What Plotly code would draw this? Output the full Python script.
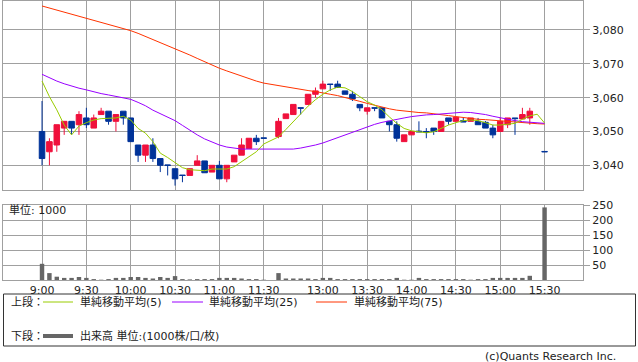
import plotly.graph_objects as go

# ---------------- data ----------------
morning = [f"{9 + m // 60}:{m % 60:02d}" for m in range(0, 151, 5)]           # 9:00 .. 11:30
afternoon = [f"{12 + (30 + m) // 60}:{(30 + m) % 60:02d}" for m in range(0, 181, 5)]  # 12:30 .. 15:30
times = morning + afternoon

opens = [3050, 3044, 3046, 3051, 3053, 3052, 3054, 3051, 3055, 3056,
         3053, 3056, 3054, 3046, 3043, 3046, 3042, 3040.1, 3039, 3037.1,
         3037, 3040, 3041.3, 3038, 3040, 3036, 3041, 3043, 3045, 3048,
         3048.1,
         3048.5, 3053.8, 3055, 3057, 3058, 3061, 3062.6, 3064, 3064, 3062,
         3061, 3058, 3056, 3057, 3057, 3053, 3052, 3047, 3049, 3050.1,
         3050, 3051, 3050, 3054, 3053, 3053.2, 3053, 3053, 3052.7, 3051,
         3050, 3052, 3054, 3053.7, 3054, None, 3044.1]
highs = [3059, 3048, 3052, 3053, 3053, 3056, 3057, 3055, 3057, 3056,
         3055, 3056, 3054, 3046, 3046, 3048, 3042, 3040.1, 3039, 3037.1,
         3039, 3043, 3041.3, 3040, 3041.3, 3040, 3043, 3048, 3048, 3049,
         3048.1,
         3054, 3055.2, 3058, 3057, 3061, 3063, 3065, 3064, 3065, 3062,
         3062, 3058, 3057, 3057, 3057, 3053, 3053, 3049, 3050, 3053,
         3051, 3051, 3053, 3054, 3054.2, 3054, 3054, 3054, 3053.1, 3052,
         3054, 3054, 3054, 3057, 3057, None, 3044.1]
lows = [3040, 3040, 3044, 3049, 3049, 3049, 3051, 3051, 3055, 3052,
        3050, 3052, 3047, 3041, 3041, 3041, 3038, 3037, 3034, 3035,
        3037, 3040, 3037.8, 3038, 3036, 3035, 3041, 3043, 3045, 3046,
        3048,
        3048, 3053.8, 3055, 3055, 3058, 3060, 3062.6, 3062, 3063, 3061,
        3059, 3056, 3055, 3056, 3054, 3050, 3047, 3047, 3049, 3049.9,
        3048, 3049, 3050, 3052, 3053, 3052.8, 3053, 3052, 3051, 3048,
        3050, 3051, 3049, 3053.7, 3052, None, 3044]
closes = [3042, 3047, 3052, 3053, 3051, 3055, 3052, 3054, 3056, 3053,
          3055, 3054, 3047, 3043, 3046, 3042, 3040, 3040, 3036, 3037,
          3039, 3041.3, 3037.8, 3040, 3036, 3040, 3043, 3046, 3048, 3047,
          3048,
          3053, 3055.2, 3058, 3056.9, 3061, 3062, 3064, 3063.9, 3063, 3061,
          3059.6, 3057, 3057, 3056.9, 3054, 3052, 3048, 3049, 3050, 3049.9,
          3049.8, 3050, 3053, 3053, 3054.2, 3052.8, 3054, 3052, 3051, 3049,
          3053, 3054, 3053.8, 3055, 3056, None, 3044]

ma5 = [3064.9, 3060.3, 3056.4, 3051.9, 3049.0, 3051.6, 3052.6, 3053.4, 3053.8, 3054.0,
       3054.0, 3054.5, 3053.4, 3050.9, 3049.5, 3047.0, 3043.6, 3042.3, 3040.8, 3039.3,
       3038.7, 3038.6, 3038.4, 3038.9, 3038.9, 3038.9, 3039.6, 3041.1, 3042.6, 3044.0,
       3046.3,
       3048.4, 3050.6, 3053.0, 3055.4, 3057.5, 3059.4, 3061.0, 3062.3, 3063.1, 3062.9,
       3061.8, 3060.3, 3058.8, 3057.8, 3056.4, 3054.3, 3052.4, 3050.9, 3050.2, 3049.9,
       3049.6, 3049.9, 3050.9, 3051.9, 3052.6, 3053.2, 3053.4, 3053.2, 3052.6, 3051.9,
       3051.9, 3052.2, 3052.4, 3053.6, 3054.6, 3055.1, 3052.5]
ma25 = [3066.9, 3065.8, 3064.9, 3064.1, 3063.4, 3062.8, 3062.3, 3061.7, 3061.2, 3060.8,
        3060.4, 3059.9, 3059.5, 3058.6, 3057.6, 3056.3, 3055.2, 3054.2, 3053.2, 3051.8,
        3050.3, 3049.0, 3047.8, 3046.8, 3046.0, 3045.4, 3045.0, 3044.8, 3044.8, 3044.8,
        3044.8,
        3044.7, 3044.7, 3044.8, 3045.1, 3045.5, 3046.0, 3046.6, 3047.4, 3048.3, 3049.0,
        3049.8, 3050.6, 3051.4, 3052.1, 3052.7, 3053.2, 3053.6, 3054.0, 3054.4, 3054.7,
        3054.9, 3055.0, 3055.2, 3055.5, 3055.7, 3055.7, 3055.6, 3055.4, 3055.0, 3054.5,
        3054.0, 3053.6, 3053.2, 3052.9, 3052.7, 3052.5, 3052.4]
ma75 = [3087.1, 3086.5, 3085.9, 3085.3, 3084.7, 3084.1, 3083.5, 3082.9, 3082.3, 3081.7,
        3081.0, 3080.4, 3079.8, 3079.0, 3078.1, 3077.2, 3076.4, 3075.5, 3074.6, 3073.6,
        3072.6, 3071.6, 3070.6, 3069.6, 3068.7, 3067.9, 3067.1, 3066.4, 3065.6, 3064.9,
        3064.3,
        3063.5, 3063.1, 3062.8, 3062.5, 3062.1, 3061.8, 3061.5, 3061.0, 3060.6, 3060.1,
        3059.6, 3058.9, 3058.3, 3057.7, 3057.1, 3056.7, 3056.3, 3056.0, 3055.7, 3055.6,
        3055.5, 3055.3, 3055.0, 3054.7, 3054.4, 3054.1, 3053.8, 3053.6, 3053.5, 3053.3,
        3053.2, 3053.0, 3052.8, 3052.6, 3052.5, 3052.3, 3052.2]

volume = [54, 23, 11, 7, 7, 10, 7, 3, 1, 3,
          7, 7, 10, 10, 7, 5, 10, 7, 13, 3,
          2, 3, 3, 3, 7, 7, 7, 5, 3, 3,
          1,
          23, 5, 5, 5, 5, 3, 7, 7, 3, 3,
          3, 3, 3, 3, 3, 3, 7, 1, 1, 7,
          3, 3, 3, 3, 3, 3, 1, 3, 3, 7,
          7, 7, 7, 7, 14, None, 242]

tick_labels = ["9:00", "9:30", "10:00", "10:30", "11:00", "11:30",
               "13:00", "13:30", "14:00", "14:30", "15:00", "15:30"]
price_ticks = [3040, 3050, 3060, 3070, 3080]
volume_ticks = [50, 100, 150, 200, 250]

legend_upper = ["単純移動平均(5)", "単純移動平均(25)", "単純移動平均(75)"]
legend_lower = "出来高 単位:(1000株/口/枚)"


# ---------------- axis mapping (5-minute slots, one blank slot over lunch) ----------------
def slot(t):
    h, m = map(int, t.split(":"))
    mins = h * 60 + m
    if mins <= 11 * 60 + 30:
        return (mins - 540) / 5
    return (mins - 750) / 5 + 32


xs = [slot(t) for t in times]
cidx = [i for i, o in enumerate(opens) if o is not None]
vidx = [i for i, v in enumerate(volume) if v is not None]

UP = "#F0103C"
DOWN = "#003399"
GRID = "#A0A0A0"
FONT = "DejaVu Sans, Noto Sans CJK JP, sans-serif"

fig = go.Figure()
fig.add_trace(go.Candlestick(
    x=[xs[i] for i in cidx], open=[opens[i] for i in cidx], high=[highs[i] for i in cidx],
    low=[lows[i] for i in cidx], close=[closes[i] for i in cidx],
    increasing=dict(line=dict(color=UP, width=1), fillcolor=UP),
    decreasing=dict(line=dict(color=DOWN, width=1), fillcolor=DOWN),
    whiskerwidth=0, xaxis="x", yaxis="y", hoverinfo="skip"))
for vals, col in [(ma75, "#FF3300"), (ma25, "#9900FF"), (ma5, "#99CC00")]:
    fig.add_trace(go.Scatter(x=xs, y=vals, mode="lines", line=dict(color=col, width=1),
                             xaxis="x", yaxis="y", hoverinfo="skip"))
fig.add_trace(go.Bar(x=[xs[i] for i in vidx], y=[volume[i] for i in vidx], width=0.6,
                     marker=dict(color="#666666", line=dict(width=0)),
                     xaxis="x2", yaxis="y2", hoverinfo="skip"))

tickvals = [slot(t) for t in tick_labels]
XR = [-5.28, 73.2]
ax_common = dict(showgrid=True, gridcolor=GRID, gridwidth=1, showline=True, linecolor=GRID,
                 linewidth=1, mirror=True, zeroline=False)

# plot area: x 3..583 px, y 1..280 px
PL, PR, PT, PB = 3, 583, 1, 280


def px(x):
    return (x - PL) / (PR - PL)


def py(y):
    return (PB - y) / (PB - PT)


fig.update_layout(
    width=638, height=362,
    margin=dict(l=PL, r=638 - PR, t=PT, b=362 - PB, pad=0, autoexpand=False),
    paper_bgcolor="white", plot_bgcolor="white", showlegend=False,
    boxgap=0.25, boxgroupgap=0,
    font=dict(family=FONT, size=11, color="#222222"),
    xaxis=dict(domain=[0, 1], anchor="y", range=XR, tickvals=tickvals, showticklabels=False,
               ticks="", rangeslider=dict(visible=False), **ax_common),
    yaxis=dict(domain=[py(190), 1], anchor="x", side="right", range=[3032.7, 3088.57],
               tickvals=price_ticks, tickformat=",", ticks="outside", ticklen=6, tickcolor=GRID,
               tickfont=dict(size=11), **ax_common),
    xaxis2=dict(domain=[0, 1], anchor="y2", range=XR, tickvals=tickvals, ticktext=tick_labels,
                ticks="", tickfont=dict(size=11), **ax_common),
    yaxis2=dict(domain=[0, py(205)], anchor="x2", side="right", range=[0, 250],
                tickvals=volume_ticks, ticks="outside", ticklen=6, tickcolor=GRID,
                tickfont=dict(size=11), **ax_common),
)

ann = []
shapes = []


def text(x, y, s, anchor="left", size=11):
    ann.append(dict(x=px(x), y=py(y), xref="paper", yref="paper", text=s, showarrow=False,
                    xanchor=anchor, yanchor="middle", font=dict(size=size, color="#222222")))


def hline(x0, x1, y, color, w=1):
    shapes.append(dict(type="line", xref="paper", yref="paper", x0=px(x0), x1=px(x1),
                       y0=py(y), y1=py(y), line=dict(color=color, width=w)))


text(7, 210, "単位: 1000")
# legend box
shapes.append(dict(type="rect", xref="paper", yref="paper", x0=px(3.5), x1=px(635.5),
                   y0=py(294), y1=py(346), line=dict(color="#333333", width=1)))
text(9, 302, "上段：")
hline(43, 73, 302, "#99CC00")
text(78, 302, legend_upper[0])
hline(172, 203, 302, "#9900FF")
text(207, 302, legend_upper[1])
hline(316, 347, 302, "#FF3300")
text(352, 302, legend_upper[2])
text(9, 336, "下段：")
hline(43, 73, 336, "#666666", 4)
text(78, 336, legend_lower)
text(618, 356, "(c)Quants Research Inc.", anchor="right")

fig.update_layout(annotations=ann, shapes=shapes)
fig.write_html("out.html", config={"staticPlot": True},
               post_script="document.body.style.margin='0';document.body.style.padding='0';")
